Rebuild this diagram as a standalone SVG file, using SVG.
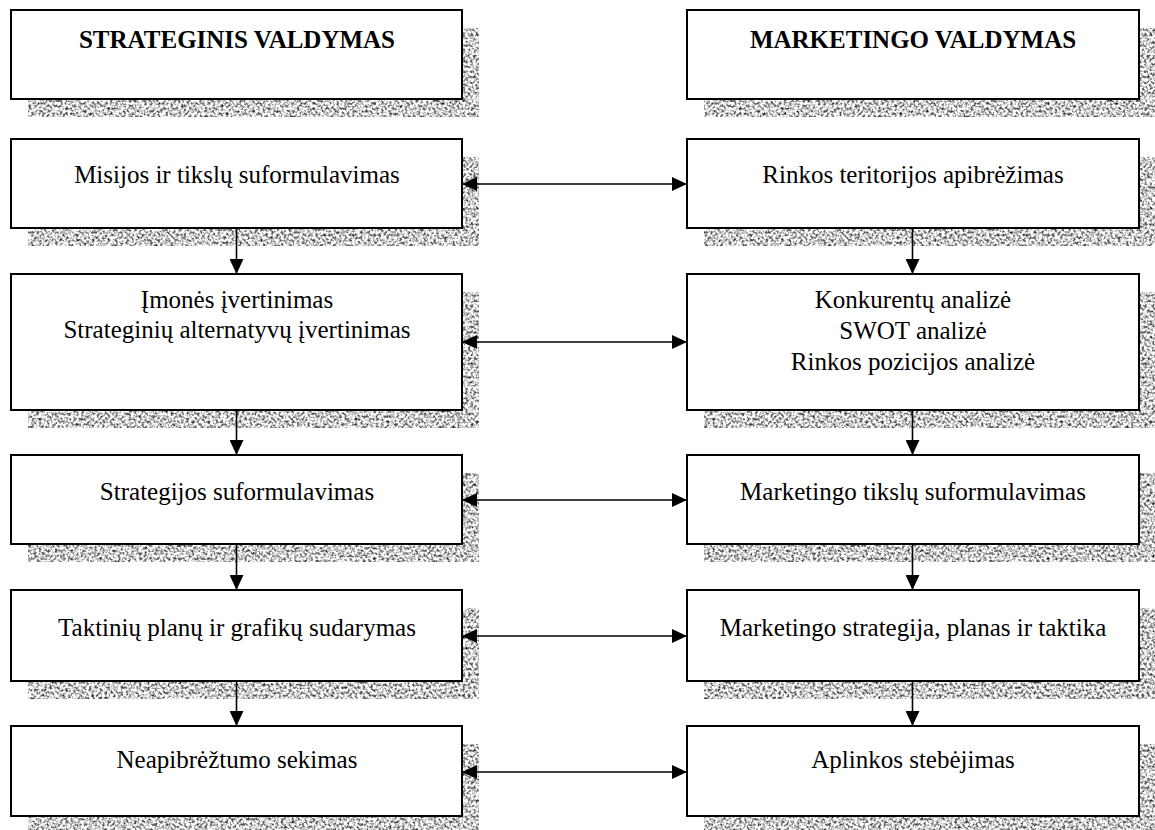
<svg xmlns="http://www.w3.org/2000/svg" width="1155" height="830" viewBox="0 0 1155 830">
  <defs>
    <style>
      .box { fill: #ffffff; stroke: #000000; stroke-width: 2; }
      .shadow { fill: #000000; }
      .lbl { font-family: "Liberation Serif", "Times New Roman", serif; font-size: 25px; fill: #000000; text-anchor: middle; }
      .hdr { font-weight: bold; }
      .link { stroke: #000000; stroke-width: 1.6; fill: none; }
      .down { marker-end: url(#head); }
      .both { marker-start: url(#head); marker-end: url(#head); }
    </style>
    <!-- grainy grey fill for the drop shadows -->
    <filter id="grain" filterUnits="userSpaceOnUse" x="0" y="0" width="1155" height="830" color-interpolation-filters="sRGB">
      <feTurbulence type="fractalNoise" baseFrequency="0.38" numOctaves="2" seed="7" result="noise"/>
      <feColorMatrix in="noise" type="matrix" values="2.0 0 0 0 -0.2  2.0 0 0 0 -0.2  2.0 0 0 0 -0.2  0 0 0 0 1" result="grey"/>
      <feComposite in="grey" in2="SourceGraphic" operator="in"/>
    </filter>
    <marker id="head" markerUnits="userSpaceOnUse" markerWidth="15" markerHeight="14" refX="15" refY="7" orient="auto-start-reverse">
      <path d="M0,0 L15,7 L0,14 Z" fill="#000000"/>
    </marker>
  </defs>

  <rect width="1155" height="830" fill="#ffffff"/>

  <!-- left column: strategic management -->
  <g id="strateginis-valdymas">
    <rect class="shadow" x="28" y="28" width="451" height="89" filter="url(#grain)"/>
    <rect class="box" x="11" y="10" width="451" height="89"/>
    <text class="lbl hdr" x="237" y="48">STRATEGINIS VALDYMAS</text>
  </g>
  <g id="misijos">
    <rect class="shadow" x="28" y="157" width="451" height="89" filter="url(#grain)"/>
    <rect class="box" x="11" y="139" width="451" height="89"/>
    <text class="lbl" x="237" y="183">Misijos ir tikslų suformulavimas</text>
  </g>
  <g id="imones-ivertinimas">
    <rect class="shadow" x="28" y="292" width="451" height="136" filter="url(#grain)"/>
    <rect class="box" x="11" y="274" width="451" height="136"/>
    <text class="lbl" x="237" y="308">Įmonės įvertinimas</text>
    <text class="lbl" x="237" y="338">Strateginių alternatyvų įvertinimas</text>
  </g>
  <g id="strategijos">
    <rect class="shadow" x="28" y="473" width="451" height="89" filter="url(#grain)"/>
    <rect class="box" x="11" y="455" width="451" height="89"/>
    <text class="lbl" x="237" y="500">Strategijos suformulavimas</text>
  </g>
  <g id="taktiniu-planu">
    <rect class="shadow" x="28" y="608" width="451" height="91" filter="url(#grain)"/>
    <rect class="box" x="11" y="590" width="451" height="91"/>
    <text class="lbl" x="237" y="636">Taktinių planų ir grafikų sudarymas</text>
  </g>
  <g id="neapibreztumo">
    <rect class="shadow" x="28" y="744" width="451" height="90" filter="url(#grain)"/>
    <rect class="box" x="11" y="726" width="451" height="90"/>
    <text class="lbl" x="237" y="768">Neapibrėžtumo sekimas</text>
  </g>

  <!-- right column: marketing management -->
  <g id="marketingo-valdymas">
    <rect class="shadow" x="704" y="28" width="452" height="89" filter="url(#grain)"/>
    <rect class="box" x="687" y="10" width="452" height="89"/>
    <text class="lbl hdr" x="913" y="48">MARKETINGO VALDYMAS</text>
  </g>
  <g id="rinkos-teritorijos">
    <rect class="shadow" x="704" y="157" width="452" height="89" filter="url(#grain)"/>
    <rect class="box" x="687" y="139" width="452" height="89"/>
    <text class="lbl" x="913" y="183">Rinkos teritorijos apibrėžimas</text>
  </g>
  <g id="konkurentu-analize">
    <rect class="shadow" x="704" y="292" width="452" height="136" filter="url(#grain)"/>
    <rect class="box" x="687" y="274" width="452" height="136"/>
    <text class="lbl" x="913" y="308">Konkurentų analizė</text>
    <text class="lbl" x="913" y="339">SWOT analizė</text>
    <text class="lbl" x="913" y="370">Rinkos pozicijos analizė</text>
  </g>
  <g id="marketingo-tikslu">
    <rect class="shadow" x="704" y="473" width="452" height="89" filter="url(#grain)"/>
    <rect class="box" x="687" y="455" width="452" height="89"/>
    <text class="lbl" x="913" y="500">Marketingo tikslų suformulavimas</text>
  </g>
  <g id="marketingo-strategija">
    <rect class="shadow" x="704" y="608" width="452" height="91" filter="url(#grain)"/>
    <rect class="box" x="687" y="590" width="452" height="91"/>
    <text class="lbl" x="913" y="636">Marketingo strategija, planas ir taktika</text>
  </g>
  <g id="aplinkos-stebejimas">
    <rect class="shadow" x="704" y="744" width="452" height="90" filter="url(#grain)"/>
    <rect class="box" x="687" y="726" width="452" height="90"/>
    <text class="lbl" x="913" y="768">Aplinkos stebėjimas</text>
  </g>

  <!-- connectors -->
  <g id="connectors">
    <line class="link down" x1="236.5" y1="228" x2="236.5" y2="274"/>
    <line class="link down" x1="236.5" y1="410" x2="236.5" y2="455"/>
    <line class="link down" x1="236.5" y1="544" x2="236.5" y2="590"/>
    <line class="link down" x1="236.5" y1="681" x2="236.5" y2="726"/>

    <line class="link down" x1="912.5" y1="228" x2="912.5" y2="274"/>
    <line class="link down" x1="912.5" y1="410" x2="912.5" y2="455"/>
    <line class="link down" x1="912.5" y1="544" x2="912.5" y2="590"/>
    <line class="link down" x1="912.5" y1="681" x2="912.5" y2="726"/>

    <line class="link both" x1="462" y1="184" x2="687" y2="184"/>
    <line class="link both" x1="462" y1="342" x2="687" y2="342"/>
    <line class="link both" x1="462" y1="500" x2="687" y2="500"/>
    <line class="link both" x1="462" y1="636" x2="687" y2="636"/>
    <line class="link both" x1="462" y1="772" x2="687" y2="772"/>
  </g>
</svg>
